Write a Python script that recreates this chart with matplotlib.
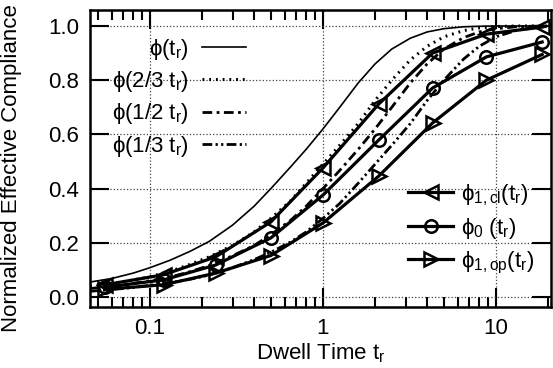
import matplotlib
matplotlib.use('Agg')
import matplotlib.pyplot as plt

plt.rcParams['font.family'] = ['Liberation Sans', 'DejaVu Sans']
plt.rcParams['font.size'] = 16
plt.rcParams['mathtext.fontset'] = 'custom'
plt.rcParams['mathtext.rm'] = 'Liberation Sans'
plt.rcParams['mathtext.it'] = 'Liberation Sans'
plt.rcParams['mathtext.fallback'] = 'stixsans'

# model curves
t_grid = [0.045, 0.06, 0.08, 0.1, 0.13, 0.17, 0.22, 0.3, 0.4, 0.5, 0.65, 0.8, 1.0,
          1.25, 1.6, 2.0, 2.5, 3.2, 4.0, 5.0, 6.5, 8.0, 10.0, 13.0, 16.0, 20.0]
phi_t = [0.055, 0.068, 0.088, 0.108, 0.135, 0.168, 0.205, 0.265, 0.335, 0.40, 0.48, 0.545, 0.62,
         0.70, 0.79, 0.86, 0.915, 0.955, 0.978, 0.99, 0.997, 0.999, 1.0, 1.0, 1.0, 1.0]
phi_23 = [0.04, 0.05, 0.062, 0.075, 0.094, 0.12, 0.148, 0.19, 0.24, 0.29, 0.355, 0.42, 0.49,
          0.56, 0.64, 0.725, 0.80, 0.875, 0.925, 0.96, 0.983, 0.993, 0.998, 1.0, 1.0, 1.0]
phi_12 = [0.031, 0.04, 0.05, 0.06, 0.073, 0.093, 0.116, 0.152, 0.19, 0.23, 0.283, 0.335, 0.40,
          0.467, 0.545, 0.62, 0.70, 0.79, 0.86, 0.915, 0.957, 0.978, 0.99, 0.997, 0.999, 1.0]
phi_13 = [0.021, 0.027, 0.035, 0.043, 0.053, 0.065, 0.081, 0.108, 0.138, 0.165, 0.203, 0.24, 0.29,
          0.345, 0.42, 0.49, 0.56, 0.64, 0.725, 0.80, 0.878, 0.925, 0.96, 0.983, 0.993, 0.998]

# points with markers
t_pts = [0.055, 0.12, 0.24, 0.5, 1.0, 2.1, 4.3, 8.8, 18.5]
phi_1cl = [0.045, 0.082, 0.148, 0.277, 0.476, 0.712, 0.90, 0.97, 0.996]
phi_0 = [0.036, 0.063, 0.118, 0.218, 0.376, 0.579, 0.771, 0.886, 0.941]
phi_1op = [0.028, 0.045, 0.088, 0.153, 0.273, 0.446, 0.642, 0.80, 0.895]

fig = plt.figure(figsize=(5.53, 3.68), dpi=100)
ax = fig.add_axes([0.1627, 0.1658, 0.8343, 0.807])

l1, = ax.plot(t_grid, phi_t, color='black', lw=1.2, label=r'$\phi(t_r)\ \ \ \ $')
l2, = ax.plot(t_grid, phi_23, color='black', lw=2.2, linestyle=(0, (0.6, 1.6)),
              label=r'$\phi(2/3\ t_r)$')
l3, = ax.plot(t_grid, phi_12, color='black', lw=2.0, linestyle=(0, (3.5, 1.6, 1, 1.6)),
              label=r'$\phi(1/2\ t_r)$')
l4, = ax.plot(t_grid, phi_13, color='black', lw=2.0, linestyle=(0, (3.5, 1.2, 0.8, 1.2, 0.8, 1.2)),
              label=r'$\phi(1/3\ t_r)$')

m1, = ax.plot(t_pts, phi_1cl, color='black', lw=2.3, marker='<', ms=10, mew=1.8, mfc='none',
              label=r'$\phi_{1,cl}(t_r)$')
m2, = ax.plot(t_pts, phi_0, color='black', lw=2.3, marker='o', ms=9, mew=1.8, mfc='none',
              label=r'$\phi_0\ (t_r)$')
m3, = ax.plot(t_pts, phi_1op, color='black', lw=2.3, marker='>', ms=10, mew=1.8, mfc='none',
              label=r'$\phi_{1,op}(t_r)$')

ax.set_xscale('log')
ax.set_xlim(0.045, 20.9)
ax.set_ylim(-0.037, 1.059)
ax.set_xticks([0.1, 1, 10])
ax.set_xticklabels(['0.1', '1', '10'])
ax.set_yticks([0.0, 0.2, 0.4, 0.6, 0.8, 1.0])
ax.set_yticklabels(['0.0', '0.2', '0.4', '0.6', '0.8', '1.0'])
ax.tick_params(which='major', direction='in', length=14, width=1.5, top=True, right=True, pad=8)
ax.tick_params(which='minor', direction='in', length=7, width=1.5, top=True, right=True)
ax.tick_params(axis='y', which='minor', left=False, right=False)
ax.grid(True, which='major', color='#444444', linestyle=':', linewidth=0.9)
for s in ax.spines.values():
    s.set_linewidth(1.8)

ax.set_xlabel(r'Dwell Time t$_r$', labelpad=2)
ax.set_ylabel('Normalized Effective Compliance', fontsize=16)
ax.yaxis.set_label_coords(-0.148, 0.468)

leg1 = ax.legend(handles=[l1, l2, l3, l4], loc='upper left', bbox_to_anchor=(0.047, 0.91),
                 frameon=False, markerfirst=False, handlelength=2.0, handletextpad=0.6,
                 labelspacing=0.33, borderpad=0, borderaxespad=0)
ax.add_artist(leg1)
ax.legend(handles=[m1, m2, m3], loc='upper left', bbox_to_anchor=(0.69, 0.42),
          frameon=False, numpoints=1, handlelength=2.0, handletextpad=0.35,
          labelspacing=0.38, borderpad=0, borderaxespad=0)

fig.savefig('out.png', dpi=100)
